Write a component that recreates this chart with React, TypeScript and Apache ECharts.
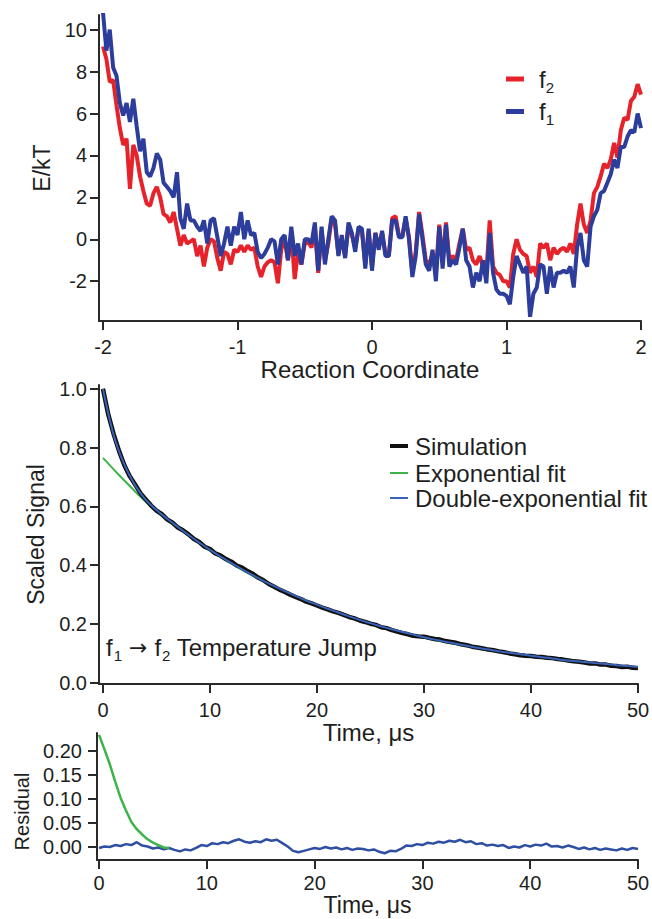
import React, { useEffect, useRef } from 'react';
import * as echarts from 'echarts';

// ---------- Panel 1: free-energy profiles ----------
const COORD_START = -2;
const COORD_STEP = 0.025;
const f1Energy = [
  10.8, 9.0, 10.0, 8.2, 7.8, 6.5, 5.9, 6.5, 5.6, 6.7,
  5.4, 4.2, 4.8, 3.2, 3.0, 3.4, 4.1, 3.8, 2.7, 2.5,
  2.3, 2.0, 3.2, 1.0, 0.5, 1.7, 0.9, 0.9, 0.6, 0.4,
  0.9, -0.2, 0.9, 1.0, 0.1, -0.8, -0.2, 0.6, -0.3, 0.6,
  0.2, 1.3, 0.0, 0.9, 0.2, 0.3, -0.6, -0.9, -0.7, -0.4,
  0.0, -0.1, -1.2,
  0.0, 0.2, -1.0, 0.6, -0.8, -0.2, -1.2, 0.0, 0.0, -0.2,
  0.8, -1.5, 0.6, -1.2, 0.0, 1.1, 0.9, -0.8, 0.2, -0.9,
  0.8, 0.3, -0.6, 0.6, 0.5, -1.4, 0.5, -1.5, 0.3, -0.5,
  0.4, -0.8, -0.8, 0.9, 0.9, 0.1, 0.1, 1.1, 0.0, -1.8,
  -0.8, 1.2, 0.0, -1.2, -1.5, -0.5, -2.0, 0.6, -1.4, 0.7,
  -1.3, -1.0, -1.2, -0.4, 0.5,
  -1.0, -1.3, -2.3, -1.6, -2.0, -1.0, -2.1, 0.3, -1.6, -2.4,
  -2.6, -2.6, -2.7, -3.1, -1.8, -0.8, -1.2, -1.6, -1.3, -3.7,
  -2.6, -2.3, -1.2, -1.3, -2.6, -1.3, -2.3, -1.6, -1.6, -1.5,
  -1.6, -1.3, -2.3, -0.4, 0.3, -1.0, -1.3, 0.6, 1.1, 1.4,
  2.2, 2.3, 2.7, 3.1, 3.8, 3.4, 4.4, 4.4, 4.9, 5.2,
  5.1, 6.0, 5.3,
];
const f2Energy = [
  9.2, 8.6, 7.5, 7.6, 6.4, 5.3, 4.5, 4.8, 2.4, 4.5,
  4.0, 3.0, 2.3, 1.7, 1.6, 2.2, 2.5, 2.0, 1.2, 1.1,
  0.8, 1.3, 0.5, -0.3, 0.2, -0.2, -0.1, 0.0, -0.8, -0.3,
  -1.3, -0.4, 0.0, -0.1, -0.9, -1.5, -0.6, -0.7, -1.2, -0.5,
  -0.6, -0.3, -0.6, -0.3, -0.5, -0.4, -1.3, -1.8, -1.3, -1.1,
  -1.0, -1.1, -2.1,
  -0.5, 0.0, -1.0, 0.3, -1.9, -0.6, -1.2, -0.2, -0.1, -0.4,
  0.6, -1.6, 0.4, -1.0, -0.2, 1.0, 0.7, -0.7, 0.0, -0.8,
  0.6, 0.2, -0.4, 0.5, 0.4, -1.2, 0.4, -1.3, 0.3, -0.4,
  0.3, -0.7, -0.8, 1.0, 1.1, 0.2, 0.1, 1.0, 0.1, -1.6,
  -0.6, 1.3, 0.2, -1.0, -1.2, -0.7, -1.6, 0.7, -1.1, 0.8,
  -1.0, -0.8, -1.0, -0.2, 0.5,
  -0.5, -0.4, -1.0, -1.2, -0.8, -1.3, -1.6, 0.9, -1.3, -1.6,
  -1.7, -2.0, -2.0, -2.3, -0.7, 0.0, -0.5, -0.7, -0.8, -1.6,
  -1.3, -1.8, -0.2, -0.4, -0.2, -1.0, -0.4, -0.7, -0.5, -0.4,
  -0.6, -0.2, -0.7, 0.7, 1.7, 0.7, 0.3, 0.9, 2.2, 2.5,
  3.0, 3.6, 3.4, 3.8, 4.6, 3.9, 5.2, 5.8, 5.7, 6.6,
  6.8, 7.4, 6.9,
];
const coordTicks = [-2, -1, 0, 1, 2];
const energyTicks = [-2, 0, 2, 4, 6, 8, 10];

// ---------- Panel 2: scaled signal ----------
const SIM_STEP = 0.5;
const simulation = [
  1.000, 0.912, 0.846, 0.789, 0.740, 0.703, 0.675, 0.645, 0.624, 0.603,
  0.586, 0.574, 0.556, 0.545, 0.528, 0.518, 0.505, 0.489, 0.479, 0.463,
  0.455, 0.440, 0.433, 0.421, 0.412, 0.399, 0.392, 0.380, 0.371, 0.358,
  0.349, 0.336, 0.327, 0.317, 0.309, 0.300, 0.292, 0.285, 0.276, 0.270,
  0.263, 0.256, 0.250, 0.243, 0.238, 0.231, 0.224, 0.219, 0.212, 0.207,
  0.201, 0.197, 0.189, 0.186, 0.179, 0.174, 0.169, 0.165, 0.160, 0.158,
  0.157, 0.153, 0.149, 0.147, 0.142, 0.139, 0.136, 0.131, 0.128, 0.123,
  0.120, 0.117, 0.113, 0.111, 0.107, 0.104, 0.100, 0.097, 0.094, 0.092,
  0.091, 0.089, 0.088, 0.085, 0.084, 0.081, 0.079, 0.076, 0.073, 0.072,
  0.069, 0.066, 0.066, 0.062, 0.062, 0.058, 0.057, 0.054, 0.055, 0.051,
  0.050,
];
const FIT_STEP = 1;
const exponentialFit = [
  0.765, 0.726, 0.688, 0.651, 0.616, 0.583, 0.552, 0.527, 0.501, 0.475,
  0.450, 0.427, 0.405, 0.384, 0.364, 0.345, 0.327, 0.310, 0.294, 0.278,
  0.264, 0.250, 0.237, 0.224, 0.212, 0.201, 0.190, 0.180, 0.171, 0.162,
  0.153, 0.145, 0.138, 0.131, 0.124, 0.117, 0.111, 0.105, 0.100, 0.095,
  0.090, 0.085, 0.081, 0.076, 0.072, 0.069, 0.065, 0.062, 0.058, 0.055,
  0.052,
];
const doubleExponentialFit = [
  1.000, 0.843, 0.742, 0.672, 0.622, 0.588, 0.558, 0.530, 0.503, 0.477,
  0.452, 0.429, 0.407, 0.386, 0.366, 0.347, 0.329, 0.312, 0.296, 0.280,
  0.266, 0.252, 0.239, 0.226, 0.214, 0.203, 0.192, 0.182, 0.173, 0.164,
  0.155, 0.147, 0.140, 0.133, 0.126, 0.119, 0.113, 0.107, 0.102, 0.097,
  0.092, 0.087, 0.083, 0.078, 0.074, 0.071, 0.067, 0.064, 0.060, 0.057,
  0.054,
];
const signalTicks = [0, 0.2, 0.4, 0.6, 0.8, 1.0];
const timeTicks = [0, 10, 20, 30, 40, 50];

// ---------- Panel 3: residuals ----------
const RES_STEP = 0.5;
const residualDouble = [
  -0.002, 0.001, 0.000, 0.004, 0.002, 0.006, 0.004, 0.010, 0.003, 0.001,
  -0.003, -0.001, -0.005, -0.002, -0.006, -0.009, -0.005, -0.007, -0.002, 0.004,
  0.002, 0.008, 0.006, 0.010, 0.008, 0.013, 0.016, 0.011, 0.009, 0.012,
  0.010, 0.016, 0.013, 0.015, 0.008, 0.001, -0.008, -0.011, -0.008, -0.005,
  -0.002, -0.004, 0.000, -0.003, -0.001, -0.005, -0.002, -0.006, -0.003, -0.004,
  -0.007, -0.005, -0.010, -0.013, -0.008, -0.009, -0.004, 0.003, 0.002, 0.006,
  0.004, 0.009, 0.007, 0.011, 0.009, 0.013, 0.011, 0.015, 0.010, 0.012,
  0.006, 0.008, 0.003, 0.005, 0.002, 0.004, -0.002, 0.001, -0.001, 0.004,
  0.001, 0.005, 0.003, 0.007, 0.001, 0.002, -0.001, 0.003, 0.000, -0.004,
  -0.001, -0.005, -0.002, -0.006, -0.003, -0.005, -0.007, -0.003, -0.006, -0.002,
  -0.004,
];
const residualExp = [
  0.233, 0.203, 0.172, 0.136, 0.102, 0.076, 0.052, 0.037, 0.026, 0.016,
  0.009, 0.004, -0.001, -0.002,
];
const residualTicks = [0, 0.05, 0.1, 0.15, 0.2];

const FONT = '"Liberation Sans", Arial, Helvetica, sans-serif';
const AXIS_COLOR = '#2a2a2a';
const TEXT_COLOR = '#1e1e1e';

const pairs = (ys: number[], start: number, step: number) =>
  ys.map((y, i) => [start + i * step, y]);

function axisStyle(ticks: number[], fmt: (v: number) => string, margin: number) {
  return {
    axisLine: { show: true, onZero: false, lineStyle: { color: AXIS_COLOR, width: 2 } },
    axisTick: {
      show: true,
      inside: false,
      length: 9,
      customValues: ticks,
      lineStyle: { color: AXIS_COLOR, width: 2 },
    },
    axisLabel: {
      customValues: ticks,
      formatter: fmt,
      color: TEXT_COLOR,
      fontSize: 20,
      fontFamily: FONT,
      margin,
    },
    splitLine: { show: false },
  };
}

const titleStyle = (size: number, padding?: number[]) => ({
  fontSize: size,
  fontFamily: FONT,
  color: TEXT_COLOR,
  ...(padding ? { padding } : {}),
});

const midLegend = (name: string, top: number, lineW: number) => ({
  data: [name],
  orient: 'vertical',
  left: 390,
  top,
  padding: 0,
  itemWidth: 18,
  itemHeight: lineW,
  icon: 'rect',
  selectedMode: false,
  textStyle: { fontFamily: FONT, fontSize: 24, color: TEXT_COLOR, padding: [0, 0, 0, 2] },
});

export default function App() {
  const ref = useRef<HTMLDivElement>(null);

  useEffect(() => {
    document.body.style.margin = '0';
    if (!ref.current) return;
    const chart = echarts.init(ref.current, undefined, { renderer: 'svg' });

    const option: any = {
      animation: false,
      backgroundColor: '#ffffff',
      grid: [
        { left: 99, top: 15, width: 542, height: 306, containLabel: false, outerBoundsMode: 'none' },
        { left: 99, top: 385, width: 539, height: 299, containLabel: false, outerBoundsMode: 'none' },
        { left: 97, top: 733, width: 541, height: 127, containLabel: false, outerBoundsMode: 'none' },
      ],
      xAxis: [
        {
          type: 'value', gridIndex: 0, min: -2.03, max: 2,
          name: 'Reaction Coordinate', nameLocation: 'middle', nameGap: 31,
          nameTextStyle: titleStyle(24),
          ...axisStyle(coordTicks, (v: number) => String(v), 16),
        },
        {
          type: 'value', gridIndex: 1, min: -0.37, max: 50,
          name: 'Time, μs', nameLocation: 'middle', nameGap: 33,
          nameTextStyle: titleStyle(24),
          ...axisStyle(timeTicks, (v: number) => String(v), 16),
        },
        {
          type: 'value', gridIndex: 2, min: -0.19, max: 50,
          name: 'Time, μs', nameLocation: 'middle', nameGap: 27,
          nameTextStyle: titleStyle(23),
          ...axisStyle(timeTicks, (v: number) => String(v), 13),
        },
      ],
      yAxis: [
        {
          type: 'value', gridIndex: 0, min: -3.9, max: 10.7,
          name: 'E/kT', nameLocation: 'middle', nameGap: 36,
          nameTextStyle: titleStyle(23),
          ...axisStyle(energyTicks, (v: number) => String(v), 12),
        },
        {
          type: 'value', gridIndex: 1, min: -0.004, max: 1.013,
          name: 'Scaled Signal', nameLocation: 'middle', nameGap: 52,
          nameTextStyle: titleStyle(23),
          ...axisStyle(signalTicks, (v: number) => v.toFixed(1), 12),
        },
        {
          type: 'value', gridIndex: 2, min: -0.027, max: 0.237,
          name: 'Residual', nameLocation: 'middle', nameGap: 65,
          nameTextStyle: titleStyle(20, [0, 30, 0, 0]),
          ...axisStyle(residualTicks, (v: number) => v.toFixed(2), 15),
        },
      ],
      legend: [
        {
          data: ['f2', 'f1'],
          orient: 'vertical',
          left: 506,
          top: 67,
          padding: 0,
          itemWidth: 18,
          itemHeight: 5,
          itemGap: 5,
          icon: 'rect',
          selectedMode: false,
          formatter: (n: string) => (n === 'f2' ? '{m|f}{s|2}' : '{m|f}{s|1}'),
          textStyle: {
            fontFamily: FONT, fontSize: 24, color: TEXT_COLOR,
            rich: {
              m: { fontFamily: FONT, fontSize: 24, color: TEXT_COLOR, padding: [0, 0, 0, 10] },
              s: { fontFamily: FONT, fontSize: 15, color: TEXT_COLOR, padding: [16, 0, 0, 0] },
            },
          },
        },
        midLegend('Simulation', 434, 4),
        midLegend('Exponential fit', 461, 2),
        midLegend('Double-exponential fit', 486, 2),
      ],
      graphic: [
        {
          type: 'text',
          x: 106,
          y: 647,
          style: {
            text: '{m|f}{s|1}{a| → }{m|f}{s|2}{m| Temperature Jump}',
            verticalAlign: 'middle',
            fill: TEXT_COLOR,
            rich: {
              m: { fontFamily: FONT, fontSize: 24, fill: TEXT_COLOR },
              a: { fontFamily: '"DejaVu Sans", sans-serif', fontSize: 22, fill: TEXT_COLOR },
              s: { fontFamily: FONT, fontSize: 15, fill: TEXT_COLOR, padding: [16, 0, 0, 1] },
            },
          },
        },
      ],
      series: [
        {
          name: 'f2', type: 'line', xAxisIndex: 0, yAxisIndex: 0,
          data: pairs(f2Energy, COORD_START, COORD_STEP),
          symbol: 'none', lineStyle: { color: '#e6232b', width: 4 }, itemStyle: { color: '#e6232b' },
        },
        {
          name: 'f1', type: 'line', xAxisIndex: 0, yAxisIndex: 0,
          data: pairs(f1Energy, COORD_START, COORD_STEP),
          symbol: 'none', lineStyle: { color: '#2c3d9c', width: 4 }, itemStyle: { color: '#2c3d9c' },
        },
        {
          name: 'Exponential fit', type: 'line', xAxisIndex: 1, yAxisIndex: 1,
          data: pairs(exponentialFit, 0, FIT_STEP), smooth: 0.3,
          symbol: 'none', lineStyle: { color: '#3bb54a', width: 2 }, itemStyle: { color: '#3bb54a' },
        },
        {
          name: 'Simulation', type: 'line', xAxisIndex: 1, yAxisIndex: 1,
          data: pairs(simulation, 0, SIM_STEP),
          symbol: 'none', lineStyle: { color: '#111111', width: 4.5 }, itemStyle: { color: '#111111' },
        },
        {
          name: 'Double-exponential fit', type: 'line', xAxisIndex: 1, yAxisIndex: 1,
          data: pairs(doubleExponentialFit, 0, FIT_STEP), smooth: 0.4,
          symbol: 'none', lineStyle: { color: '#3a62b8', width: 2 }, itemStyle: { color: '#3a62b8' },
        },
        {
          name: 'Double-exponential residual', type: 'line', xAxisIndex: 2, yAxisIndex: 2,
          data: pairs(residualDouble, 0, RES_STEP),
          symbol: 'none', lineStyle: { color: '#2f4fa3', width: 2.5 }, itemStyle: { color: '#2f4fa3' },
        },
        {
          name: 'Exponential residual', type: 'line', xAxisIndex: 2, yAxisIndex: 2,
          data: pairs(residualExp, 0, RES_STEP),
          symbol: 'none', lineStyle: { color: '#3bb54a', width: 2.5 }, itemStyle: { color: '#3bb54a' },
        },
      ],
    };

    chart.setOption(option);
    return () => chart.dispose();
  }, []);

  return <div ref={ref} style={{ width: 652, height: 919 }} />;
}
